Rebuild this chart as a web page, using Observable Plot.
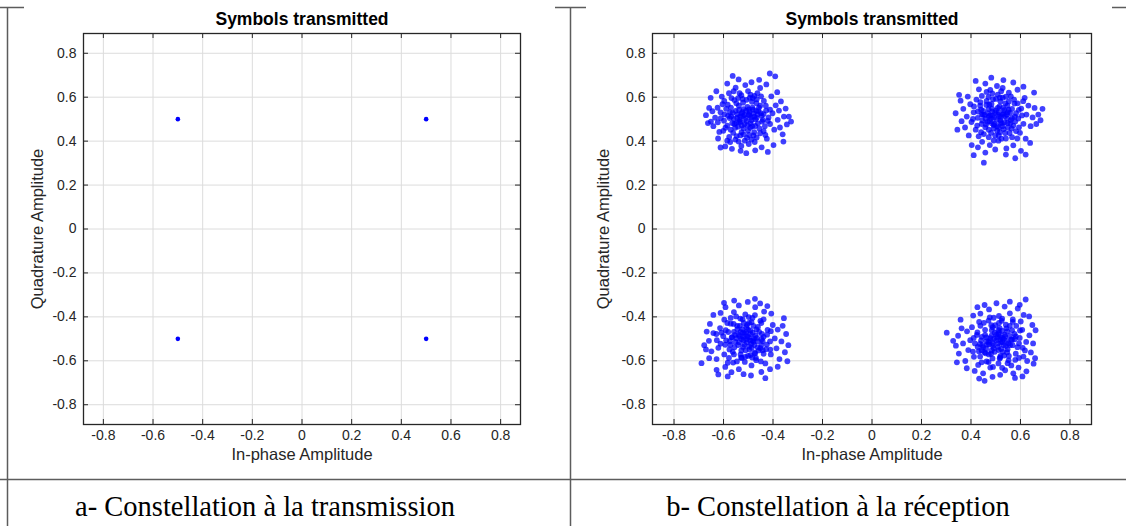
<!DOCTYPE html>
<html><head><meta charset="utf-8">
<script src="https://cdn.jsdelivr.net/npm/d3@7"></script>
<script src="https://cdn.jsdelivr.net/npm/@observablehq/plot@0.6"></script>
<style>
html,body{margin:0;padding:0;background:#fff;}
#page{position:relative;width:1126px;height:526px;overflow:hidden;background:#fff;}
#table{position:absolute;left:0;top:0;}
.panel{position:absolute;top:6px;}
.panel svg{display:block;}
</style></head><body>
<div id="page">
<svg id="table" width="1126" height="526" xmlns="http://www.w3.org/2000/svg"></svg>
<div id="left" class="panel" style="left:24px"></div>
<div id="right" class="panel" style="left:586px"></div>
</div>
<script>
// ---- data ----
const titleText = "Symbols transmitted";
const xLabelText = "In-phase Amplitude";
const yLabelText = "Quadrature Amplitude";
const captions = ["a- Constellation à la transmission", "b- Constellation à la réception"];
const xTicks = [-0.8, -0.6, -0.4, -0.2, 0, 0.2, 0.4, 0.6, 0.8];
const yTicks = [-0.8, -0.6, -0.4, -0.2, 0, 0.2, 0.4, 0.6, 0.8];

// transmitted symbols (in-phase, quadrature)
const txI = [-0.5, 0.5, -0.5, 0.5];
const txQ = [0.5, 0.5, -0.5, -0.5];

// received symbols, flat [I, Q, I, Q, ...] per cluster
const rxTopLeft = [
-0.512,0.503,-0.498,0.521,-0.531,0.488,-0.487,0.495,-0.524,0.532,-0.476,0.512,-0.545,0.507,-0.503,0.472,-0.519,0.546,-0.468,0.538,
-0.556,0.478,-0.492,0.461,-0.538,0.561,-0.461,0.481,-0.582,0.515,-0.507,0.588,-0.449,0.527,-0.571,0.452,-0.483,0.553,-0.527,0.441,
-0.441,0.497,-0.598,0.493,-0.515,0.519,-0.495,0.533,-0.533,0.511,-0.472,0.469,-0.551,0.538,-0.485,0.579,-0.563,0.529,-0.457,0.552,
-0.541,0.466,-0.501,0.448,-0.589,0.547,-0.433,0.468,-0.612,0.531,-0.521,0.575,-0.466,0.591,-0.547,0.423,-0.428,0.539,-0.592,0.461,
-0.505,0.415,-0.623,0.486,-0.479,0.426,-0.568,0.596,-0.418,0.508,-0.528,0.609,-0.452,0.436,-0.604,0.568,-0.491,0.612,-0.577,0.419,
-0.412,0.478,-0.634,0.507,-0.539,0.398,-0.463,0.618,-0.402,0.527,-0.617,0.442,-0.559,0.627,-0.437,0.583,-0.585,0.402,-0.498,0.387,
-0.645,0.536,-0.395,0.452,-0.551,0.643,-0.425,0.411,-0.641,0.468,-0.474,0.396,-0.607,0.603,-0.389,0.563,-0.528,0.378,-0.651,0.489,
-0.381,0.497,-0.452,0.642,-0.622,0.412,-0.512,0.655,-0.376,0.539,-0.593,0.376,-0.446,0.372,-0.658,0.551,-0.407,0.604,-0.566,0.365,
-0.372,0.462,-0.487,0.668,-0.663,0.482,-0.368,0.581,-0.531,0.356,-0.398,0.382,-0.629,0.627,-0.427,0.658,-0.356,0.512,-0.585,0.662,
-0.361,0.431,-0.472,0.358,-0.612,0.371,-0.349,0.548,-0.539,0.681,-0.671,0.518,-0.383,0.623,-0.344,0.476,-0.456,0.679,-0.391,0.695,
-0.336,0.512,-0.421,0.351,-0.327,0.489,-0.358,0.398,-0.508,0.345,-0.652,0.597,-0.563,0.697,-0.413,0.708,
-0.507,0.492,-0.521,0.514,-0.489,0.508,-0.534,0.497,-0.515,0.479,-0.496,0.518,-0.478,0.526,-0.544,0.522,-0.509,0.538,-0.526,0.471,
-0.491,0.482,-0.558,0.501,-0.471,0.499,-0.537,0.542,-0.503,0.556,-0.481,0.543,-0.548,0.483,-0.519,0.458,-0.462,0.522,-0.574,0.531,
-0.575,0.505,-0.565,0.482,-0.570,0.553,-0.548,0.572,-0.523,0.592,-0.494,0.597,-0.467,0.573,-0.452,0.561,-0.438,0.523,-0.444,0.489,
-0.455,0.458,-0.476,0.441,-0.497,0.428,-0.532,0.426,-0.561,0.438,-0.585,0.471,-0.596,0.522,-0.583,0.566,-0.556,0.587,-0.475,0.606,
-0.429,0.561,-0.421,0.492,-0.438,0.446,-0.466,0.417,-0.514,0.402,-0.552,0.407,-0.601,0.447,-0.611,0.505,-0.597,0.583,-0.535,0.618,
-0.501,0.628,-0.448,0.604,-0.412,0.543,-0.431,0.428,-0.487,0.407,-0.573,0.396,-0.624,0.552,-0.578,0.618,-0.537,0.488,-0.466,0.506,
-0.528,0.525,-0.498,0.545,-0.484,0.468,-0.553,0.461,-0.519,0.431,-0.459,0.537,-0.569,0.512,-0.541,0.596,-0.482,0.596,-0.446,0.515
];
const rxTopRight = [
0.503,0.497,0.487,0.516,0.521,0.509,0.495,0.478,0.512,0.532,0.476,0.491,0.536,0.486,0.508,0.551,0.468,0.527,0.545,0.521,
0.491,0.458,0.527,0.468,0.459,0.502,0.552,0.543,0.483,0.569,0.561,0.496,0.517,0.441,0.449,0.538,0.539,0.572,0.472,0.452,
0.571,0.471,0.501,0.592,0.443,0.478,0.582,0.527,0.528,0.598,0.463,0.583,0.556,0.437,0.498,0.426,0.591,0.503,0.437,0.561,
0.514,0.513,0.497,0.529,0.532,0.527,0.481,0.503,0.519,0.484,0.505,0.468,0.546,0.504,0.471,0.546,0.529,0.551,0.484,0.481,
0.603,0.548,0.427,0.506,0.574,0.589,0.452,0.432,0.612,0.479,0.486,0.617,0.541,0.412,0.422,0.589,0.598,0.438,0.553,0.621,
0.419,0.452,0.624,0.521,0.511,0.402,0.463,0.624,0.587,0.412,0.411,0.531,0.632,0.562,0.528,0.642,0.445,0.397,0.617,0.597,
0.402,0.487,0.571,0.381,0.476,0.382,0.641,0.468,0.397,0.568,0.505,0.651,0.588,0.634,0.432,0.636,0.649,0.508,0.391,0.426,
0.621,0.411,0.543,0.367,0.383,0.512,0.458,0.662,0.657,0.551,0.612,0.648,0.387,0.603,0.498,0.362,0.664,0.478,0.571,0.667,
0.376,0.462,0.428,0.372,0.672,0.521,0.419,0.674,0.639,0.392,0.369,0.547,0.531,0.678,0.602,0.356,0.458,0.348,0.681,0.495,
0.362,0.491,0.655,0.621,0.403,0.382,0.482,0.689,0.358,0.584,0.541,0.339,0.345,0.452,0.689,0.547,0.452,0.302,0.352,0.611,
0.621,0.339,0.338,0.527,0.579,0.322,0.411,0.336,
0.493,0.507,0.509,0.521,0.518,0.496,0.486,0.534,0.525,0.481,0.501,0.539,0.477,0.517,0.537,0.514,0.492,0.473,0.548,0.532,
0.467,0.488,0.515,0.558,0.559,0.481,0.474,0.566,0.532,0.455,0.455,0.519,0.566,0.547,0.506,0.448,0.441,0.543,0.549,0.462,
0.566,0.505,0.558,0.528,0.547,0.561,0.519,0.581,0.489,0.591,0.462,0.565,0.448,0.521,0.446,0.494,0.458,0.463,0.481,0.438,
0.512,0.426,0.538,0.437,0.564,0.457,0.579,0.489,0.593,0.542,0.576,0.571,0.541,0.602,0.508,0.612,0.471,0.601,0.438,0.577,
0.428,0.535,0.425,0.471,0.441,0.441,0.472,0.418,0.523,0.411,0.566,0.418,0.594,0.463,0.606,0.517,0.588,0.572,0.561,0.604,
0.522,0.627,0.478,0.633,0.444,0.606,0.412,0.558,0.408,0.501,0.431,0.422,0.492,0.403,0.582,0.446,0.611,0.582,0.534,0.541,
0.472,0.513,0.512,0.461,0.548,0.482,0.485,0.548,0.528,0.521,0.461,0.476,0.553,0.581,0.517,0.598,0.443,0.521,0.577,0.512
];
const rxBottomLeft = [
-0.498,-0.493,-0.514,-0.478,-0.483,-0.507,-0.527,-0.502,-0.506,-0.516,-0.471,-0.486,-0.539,-0.481,-0.492,-0.462,-0.521,-0.537,-0.463,-0.511,
-0.552,-0.514,-0.486,-0.541,-0.508,-0.447,-0.544,-0.456,-0.456,-0.468,-0.567,-0.493,-0.475,-0.563,-0.531,-0.571,-0.447,-0.528,-0.581,-0.469,
-0.512,-0.582,-0.438,-0.491,-0.593,-0.527,-0.497,-0.427,-0.559,-0.432,-0.428,-0.547,-0.601,-0.488,-0.468,-0.597,-0.546,-0.603,-0.422,-0.459,
-0.503,-0.489,-0.519,-0.505,-0.488,-0.522,-0.534,-0.489,-0.509,-0.471,-0.477,-0.498,-0.541,-0.528,-0.495,-0.548,-0.524,-0.456,-0.462,-0.539,
-0.614,-0.451,-0.523,-0.411,-0.412,-0.512,-0.578,-0.587,-0.451,-0.418,-0.621,-0.541,-0.487,-0.621,-0.571,-0.405,-0.409,-0.571,-0.627,-0.506,
-0.538,-0.638,-0.431,-0.612,-0.597,-0.413,-0.401,-0.437,-0.473,-0.392,-0.641,-0.474,-0.593,-0.628,-0.512,-0.389,-0.393,-0.498,-0.649,-0.557,
-0.447,-0.651,-0.558,-0.378,-0.628,-0.592,-0.386,-0.543,-0.436,-0.376,-0.612,-0.382,-0.519,-0.661,-0.381,-0.458,-0.659,-0.509,-0.472,-0.356,
-0.568,-0.652,-0.374,-0.592,-0.655,-0.432,-0.407,-0.385,-0.489,-0.667,-0.592,-0.356,-0.366,-0.512,-0.538,-0.348,-0.671,-0.548,-0.412,-0.638,
-0.628,-0.641,-0.361,-0.441,-0.452,-0.339,-0.668,-0.467,-0.381,-0.627,-0.583,-0.671,-0.352,-0.561,-0.502,-0.332,-0.641,-0.391,-0.347,-0.478,
-0.689,-0.611,-0.621,-0.662,-0.431,-0.679,-0.557,-0.326,-0.338,-0.529,-0.423,-0.351,-0.678,-0.529,-0.356,-0.406,-0.473,-0.318,-0.658,-0.588,
-0.342,-0.602,-0.598,-0.336,
-0.506,-0.502,-0.491,-0.479,-0.521,-0.491,-0.479,-0.513,-0.516,-0.526,-0.497,-0.535,-0.532,-0.468,-0.482,-0.472,-0.548,-0.497,-0.465,-0.496,
-0.528,-0.553,-0.501,-0.458,-0.556,-0.538,-0.458,-0.553,-0.574,-0.511,-0.479,-0.441,-0.534,-0.441,-0.446,-0.502,-0.563,-0.559,-0.491,-0.574,
-0.565,-0.492,-0.558,-0.468,-0.545,-0.441,-0.518,-0.428,-0.487,-0.424,-0.461,-0.446,-0.445,-0.478,-0.442,-0.511,-0.451,-0.542,-0.472,-0.566,
-0.501,-0.578,-0.529,-0.586,-0.558,-0.571,-0.576,-0.548,-0.589,-0.507,-0.591,-0.461,-0.571,-0.431,-0.532,-0.408,-0.483,-0.405,-0.447,-0.428,
-0.424,-0.481,-0.425,-0.526,-0.438,-0.568,-0.469,-0.587,-0.514,-0.605,-0.561,-0.608,-0.597,-0.571,-0.612,-0.522,-0.608,-0.472,-0.585,-0.428,
-0.549,-0.398,-0.498,-0.401,-0.438,-0.411,-0.409,-0.465,-0.411,-0.549,-0.449,-0.603,-0.583,-0.609,-0.629,-0.478,-0.521,-0.471,-0.476,-0.528,
-0.537,-0.515,-0.492,-0.508,-0.511,-0.552,-0.467,-0.457,-0.553,-0.482,-0.505,-0.437,-0.442,-0.552,-0.572,-0.527,-0.484,-0.585,-0.526,-0.587
];
const rxBottomRight = [
0.501,-0.508,0.517,-0.492,0.488,-0.521,0.527,-0.514,0.509,-0.537,0.478,-0.497,0.538,-0.489,0.496,-0.472,0.522,-0.546,0.466,-0.526,
0.551,-0.521,0.483,-0.553,0.511,-0.461,0.547,-0.466,0.457,-0.482,0.563,-0.503,0.472,-0.571,0.534,-0.576,0.449,-0.538,0.576,-0.478,
0.516,-0.589,0.441,-0.507,0.588,-0.538,0.498,-0.438,0.557,-0.441,0.432,-0.556,0.597,-0.496,0.463,-0.603,0.548,-0.611,0.426,-0.471,
0.506,-0.494,0.521,-0.517,0.489,-0.531,0.533,-0.501,0.511,-0.479,0.477,-0.509,0.541,-0.533,0.496,-0.559,0.526,-0.464,0.461,-0.546,
0.607,-0.459,0.524,-0.418,0.416,-0.521,0.579,-0.596,0.452,-0.427,0.618,-0.553,0.489,-0.628,0.569,-0.412,0.412,-0.582,0.623,-0.514,
0.538,-0.643,0.429,-0.619,0.601,-0.421,0.404,-0.447,0.476,-0.402,0.636,-0.484,0.592,-0.631,0.513,-0.396,0.397,-0.506,0.642,-0.562,
0.449,-0.657,0.557,-0.384,0.627,-0.601,0.389,-0.551,0.438,-0.385,0.613,-0.391,0.518,-0.664,0.384,-0.466,0.651,-0.521,0.473,-0.366,
0.571,-0.657,0.377,-0.601,0.648,-0.437,0.409,-0.394,0.487,-0.673,0.589,-0.362,0.368,-0.521,0.536,-0.353,0.659,-0.588,0.415,-0.646,
0.624,-0.648,0.362,-0.452,0.455,-0.346,0.661,-0.461,0.383,-0.634,0.578,-0.678,0.351,-0.567,0.503,-0.338,0.635,-0.398,0.348,-0.486,
0.302,-0.472,0.608,-0.671,0.433,-0.681,0.557,-0.331,0.339,-0.531,0.426,-0.356,0.653,-0.613,0.358,-0.413,0.621,-0.321,0.455,-0.691,
0.343,-0.607,0.597,-0.345,0.328,-0.509,
0.494,-0.499,0.509,-0.521,0.519,-0.503,0.483,-0.486,0.514,-0.472,0.492,-0.543,0.532,-0.528,0.471,-0.514,0.545,-0.509,0.502,-0.481,
0.529,-0.559,0.462,-0.493,0.557,-0.487,0.481,-0.568,0.543,-0.452,0.454,-0.561,0.568,-0.529,0.488,-0.447,0.518,-0.585,0.436,-0.523,
0.566,-0.505,0.558,-0.528,0.546,-0.561,0.519,-0.578,0.487,-0.589,0.459,-0.566,0.446,-0.529,0.444,-0.491,0.457,-0.459,0.482,-0.438,
0.513,-0.428,0.541,-0.436,0.566,-0.461,0.581,-0.489,0.594,-0.521,0.581,-0.568,0.552,-0.598,0.511,-0.612,0.471,-0.606,0.437,-0.581,
0.427,-0.537,0.424,-0.482,0.438,-0.441,0.471,-0.417,0.526,-0.408,0.569,-0.423,0.598,-0.462,0.609,-0.541,0.594,-0.587,0.563,-0.621,
0.526,-0.632,0.478,-0.631,0.443,-0.607,0.408,-0.558,0.411,-0.496,0.433,-0.423,0.492,-0.404,0.583,-0.441,0.612,-0.581,0.536,-0.481,
0.473,-0.526,0.512,-0.551,0.548,-0.547,0.484,-0.461,0.527,-0.496,0.462,-0.511,0.553,-0.578,0.516,-0.451,0.443,-0.553,0.577,-0.502
];

// ---- build ----
function pairs(flat) { const out = []; for (let k = 0; k < flat.length; k += 2) out.push({I: flat[k], Q: flat[k + 1]}); return out; }
const txData = txI.map((v, k) => ({I: v, Q: txQ[k]}));
const rxData = [...pairs(rxTopLeft), ...pairs(rxTopRight), ...pairs(rxBottomLeft), ...pairs(rxBottomRight)];

const ink = "#262626";
function panel({width, marginLeft, marginRight, xDomain, yDomain, yLabelDx, dots}) {
  const height = 472, marginTop = 27, marginBottom = 54;
  const fw = width - marginLeft - marginRight, fh = height - marginTop - marginBottom;
  return Plot.plot({
    width, height, marginLeft, marginRight, marginTop, marginBottom,
    style: {fontFamily: "'Liberation Sans', Arial, sans-serif", fontSize: "14px", background: "white", color: ink, overflow: "visible"},
    x: {domain: xDomain, axis: null},
    y: {domain: yDomain, axis: null},
    marks: [
      Plot.gridX(xTicks, {stroke: "#dcdcdc", strokeOpacity: 1}),
      Plot.gridY(yTicks, {stroke: "#dcdcdc", strokeOpacity: 1}),
      dots,
      Plot.tickX(xTicks, {x: d => d, stroke: ink, insetTop: fh - 5}),
      Plot.tickX(xTicks, {x: d => d, stroke: ink, insetBottom: fh - 5}),
      Plot.tickY(yTicks, {y: d => d, stroke: ink, insetRight: fw - 5}),
      Plot.tickY(yTicks, {y: d => d, stroke: ink, insetLeft: fw - 5}),
      Plot.frame({stroke: ink, strokeWidth: 1.3}),
      Plot.axisX(xTicks, {tickSize: 0, tickPadding: 6, tickFormat: d => String(d), label: null, fontSize: 14, fill: ink}),
      Plot.axisY(yTicks, {tickSize: 0, tickPadding: 7, tickFormat: d => String(d), label: null, fontSize: 14, fill: ink}),
      Plot.text([titleText], {text: d => d, frameAnchor: "top", lineAnchor: "middle", textAnchor: "middle", dy: -14, fontWeight: "bold", fontSize: 17.5, fill: "#000"}),
      Plot.text([xLabelText], {text: d => d, frameAnchor: "bottom", lineAnchor: "middle", textAnchor: "middle", dy: 30, fontSize: 16.5, fill: ink}),
      Plot.text([yLabelText], {text: d => d, frameAnchor: "left", lineAnchor: "middle", textAnchor: "middle", dx: yLabelDx, rotate: -90, fontSize: 16.5, fill: ink})
    ]
  });
}

document.getElementById("left").append(panel({
  width: 531, marginLeft: 59, marginRight: 35, xDomain: [-0.88, 0.88], yDomain: [-0.89, 0.89], yLabelDx: -46,
  dots: Plot.dot(txData, {x: "I", y: "Q", r: 2.3, fill: "#0000ff", stroke: null})
}));
document.getElementById("right").append(panel({
  width: 526, marginLeft: 66, marginRight: 21, xDomain: [-0.887, 0.887], yDomain: [-0.89, 0.89], yLabelDx: -49,
  dots: Plot.dot(rxData, {x: "I", y: "Q", r: 2.9, fill: "#0000ff", fillOpacity: 0.75, stroke: null})
}));

// table borders and captions
const ns = "http://www.w3.org/2000/svg";
const tbl = document.getElementById("table");
function el(name, attrs, text) { const e = document.createElementNS(ns, name); for (const k in attrs) e.setAttribute(k, attrs[k]); if (text) e.textContent = text; tbl.append(e); return e; }
const lineStyle = {stroke: "#5c5c5c", "stroke-width": 1.5};
el("line", {x1: 0, y1: 7.5, x2: 1126, y2: 7.5, ...lineStyle});
el("line", {x1: 7.5, y1: 7, x2: 7.5, y2: 526, ...lineStyle});
el("line", {x1: 570.5, y1: 7, x2: 570.5, y2: 526, ...lineStyle});
el("line", {x1: 0, y1: 479.5, x2: 1126, y2: 479.5, ...lineStyle});
const capX = [265, 838];
captions.forEach((c, k) => el("text", {x: capX[k], y: 516, "text-anchor": "middle", "font-family": "'Liberation Serif', 'Times New Roman', serif", "font-size": 28.5, fill: "#000"}, c));
</script>
</body></html>
